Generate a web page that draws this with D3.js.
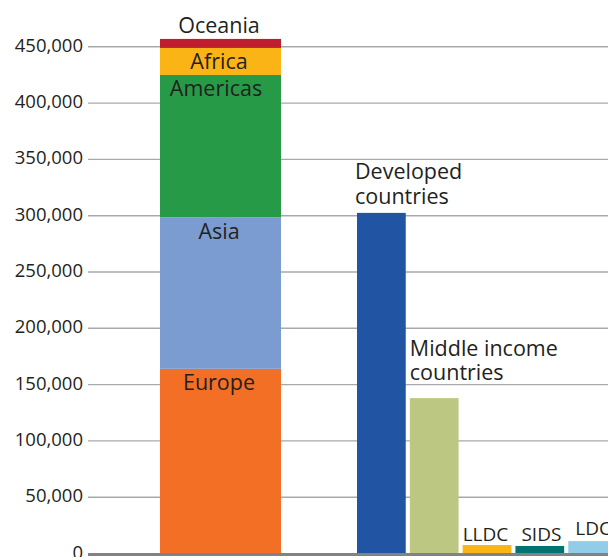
<!DOCTYPE html>
<html>
<head>
<meta charset="utf-8">
<script src="https://cdn.jsdelivr.net/npm/d3@7"></script>
<style>
  html, body { margin: 0; padding: 0; background: #fff; }
  svg text { font-family: "Open Sans", "Noto Sans", sans-serif; fill: #231f20; }
</style>
</head>
<body>
<svg id="chart" width="608" height="557"></svg>
<script>
// Stacked regional totals (bottom to top)
const regions = ["Europe", "Asia", "Americas", "Africa", "Oceania"];
const regionValues = [164000, 134500, 126500, 24000, 8000];
const regionColors = ["#f36f26", "#7b9cd1", "#279a48", "#fbb416", "#be1e2d"];

// Country groupings
const groups = ["Developed countries", "Middle income countries", "LLDC", "SIDS", "LDC"];
const groupValues = [302500, 138000, 7500, 6700, 11000];
const groupColors = ["#2155a3", "#bcc882", "#fbb416", "#007470", "#92cde8"];

// Axis ticks
const tickValues = [0, 50000, 100000, 150000, 200000, 250000, 300000, 350000, 400000, 450000];

const svg = d3.select("#chart");
const W = 608;
const plotLeft = 88;

const y = d3.scaleLinear().domain([0, 450000]).range([553.5, 46.8]);

const xRegion = d3.scaleBand().domain(["Regions"]).range([160, 281]).padding(0);
const xGroup = d3.scaleBand().domain(groups).range([357, 617]).paddingInner(0.077).paddingOuter(0);

// Gridlines
svg.append("g")
  .selectAll("line")
  .data(tickValues.filter(d => d > 0))
  .join("line")
  .attr("x1", plotLeft).attr("x2", W)
  .attr("y1", d => y(d)).attr("y2", d => y(d))
  .attr("stroke", "#a7a9ac").attr("stroke-width", 1.4);

// Y axis labels
const axis = d3.axisLeft(y).tickValues(tickValues).tickSize(0).tickPadding(0)
  .tickFormat(d3.format(","));
const gAxis = svg.append("g").attr("transform", "translate(83,0)").call(axis);
gAxis.select(".domain").remove();
gAxis.selectAll("text")
  .attr("font-size", 18.5)
  .attr("dy", "4.5px")
  .style("font-family", "'Open Sans', sans-serif")
  .style("fill", "#231f20");

// Stacked region bar
let cum = 0;
const stackData = regions.map((r, i) => {
  const d = { name: r, y0: cum, y1: cum + regionValues[i], color: regionColors[i] };
  cum += regionValues[i];
  return d;
});

svg.append("g")
  .selectAll("rect")
  .data(stackData)
  .join("rect")
  .attr("x", xRegion("Regions"))
  .attr("width", xRegion.bandwidth())
  .attr("y", d => y(d.y1))
  .attr("height", d => y(d.y0) - y(d.y1))
  .attr("fill", d => d.color);

// Region labels: inside the top of each segment, Oceania above the bar
const cx = xRegion("Regions") + xRegion.bandwidth() / 2 - 1.5;
svg.append("g")
  .selectAll("text")
  .data(stackData)
  .join("text")
  .attr("x", d => d.name === "Americas" ? cx - 3 : cx)
  .attr("y", d => d.name === "Oceania" ? y(d.y1) - 6 : y(d.y1) + 21.5)
  .attr("text-anchor", "middle")
  .attr("font-size", 21.5)
  .text(d => d.name);

// Group bars
const groupData = groups.map((g, i) => ({ name: g, value: groupValues[i], color: groupColors[i] }));
svg.append("g")
  .selectAll("rect")
  .data(groupData)
  .join("rect")
  .attr("x", d => xGroup(d.name))
  .attr("width", xGroup.bandwidth())
  .attr("y", d => y(d.value))
  .attr("height", d => y(0) - y(d.value))
  .attr("fill", d => d.color);

// Group labels, placed above each bar
const labelSpec = {
  "Developed countries": { lines: ["Developed", "countries"], dx: -2, gap: 9, size: 21.5 },
  "Middle income countries": { lines: ["Middle income", "countries"], dx: 0, gap: 18, size: 21.5 },
  "LLDC": { lines: ["LLDC"], dx: 0, gap: 4.5, size: 19 },
  "SIDS": { lines: ["SIDS"], dx: 6, gap: 5, size: 19 },
  "LDC": { lines: ["LDC"], dx: 7, gap: 6, size: 19 }
};
const gLabels = svg.append("g");
groupData.forEach(d => {
  const s = labelSpec[d.name];
  const lastY = y(d.value) - s.gap;
  s.lines.forEach((ln, j) => {
    gLabels.append("text")
      .attr("font-size", s.size)
      .attr("x", xGroup(d.name) + s.dx)
      .attr("y", lastY - (s.lines.length - 1 - j) * 24.5)
      .text(ln);
  });
});

// Baseline
svg.append("line")
  .attr("x1", plotLeft).attr("x2", W)
  .attr("y1", y(0) + 1).attr("y2", y(0) + 1)
  .attr("stroke", "#808285").attr("stroke-width", 3);
</script>
</body>
</html>
